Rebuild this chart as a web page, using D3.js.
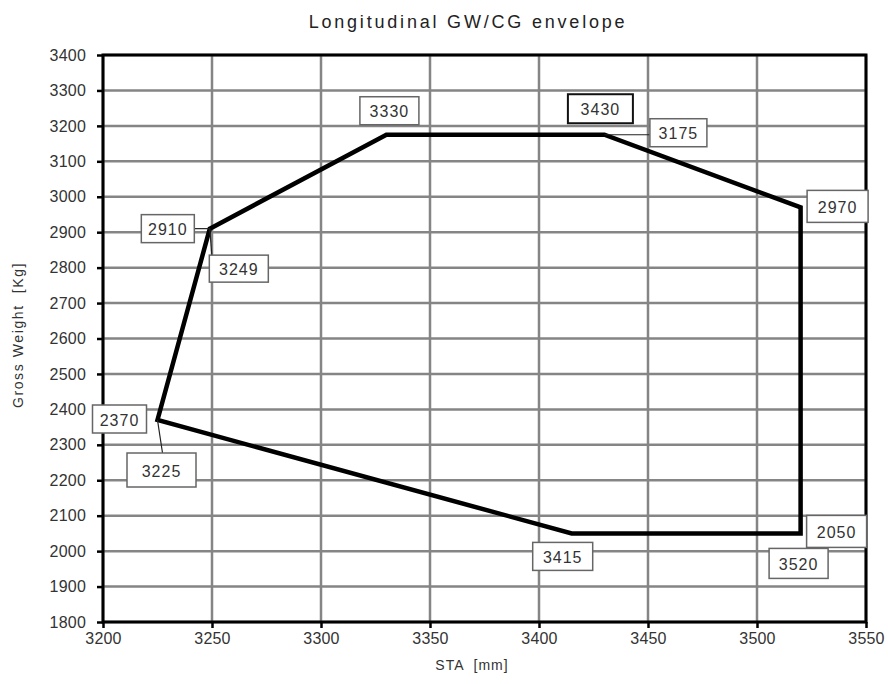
<!DOCTYPE html>
<html>
<head>
<meta charset="utf-8">
<script src="https://cdn.jsdelivr.net/npm/d3@7"></script>
<style>
  body { margin: 0; background: #fff; }
  svg text { font-family: "Liberation Sans", Arial, sans-serif; }
</style>
</head>
<body>
<div id="chart-area"></div>
<script>
// envelope corners, STA (mm) and gross weight (kg)
const envelopeSta = [3249, 3330, 3430, 3520, 3520, 3415, 3225]
const envelopeWeight = [2910, 3175, 3175, 2970, 2050, 2050, 2370]

const staTicks = [3200, 3250, 3300, 3350, 3400, 3450, 3500, 3550]
const weightTicks = [1800, 1900, 2000, 2100, 2200, 2300, 2400, 2500, 2600,
  2700, 2800, 2900, 3000, 3100, 3200, 3300, 3400]

// callout boxes: which corner and what number
const calloutPoint = [0, 0, 1, 2, 2, 3, 4, 4, 5, 6, 6]
const calloutText = ["2910", "3249", "3330", "3430", "3175", "2970", "2050", "3520", "3415", "2370", "3225"]

// layout of callouts (px offset of box centre from corner, box size, leader)
const calloutLayout = [
  { dx: -42, dy: 0, w: 53, h: 28, lead: "h" },
  { dx: 29, dy: 40, w: 59, h: 27, lead: "v", lx: 2 },
  { dx: 3, dy: -24, w: 59, h: 28 },
  { dx: -4, dy: -26, w: 65, h: 29, dark: true },
  { dx: 74, dy: -2, w: 57, h: 28, lead: "h" },
  { dx: 37, dy: -1, w: 61, h: 32 },
  { dx: 36, dy: -2, w: 60, h: 32 },
  { dx: -2, dy: 30, w: 59, h: 30 },
  { dx: -9, dy: 23, w: 60, h: 28 },
  { dx: -38, dy: -1, w: 54, h: 28 },
  { dx: 4, dy: 50, w: 69, h: 34, lead: "v", lx: 5 }
]

const width = 888, height = 684
const margin = { left: 103, right: 22, top: 55, bottom: 62 }

const svg = d3.select("#chart-area").append("svg")
  .attr("width", width)
  .attr("height", height)

const x = d3.scaleLinear().domain([3200, 3550]).range([margin.left, width - margin.right])
const y = d3.scaleLinear().domain([1800, 3400]).range([height - margin.bottom, margin.top])

// grid
svg.append("g").selectAll("line.gx")
  .data(staTicks)
  .enter().append("line")
    .attr("x1", d => x(d)).attr("x2", d => x(d))
    .attr("y1", y(1800)).attr("y2", y(3400))
    .attr("stroke", "#858585").attr("stroke-width", 2.5)
svg.append("g").selectAll("line.gy")
  .data(weightTicks)
  .enter().append("line")
    .attr("x1", x(3200)).attr("x2", x(3550))
    .attr("y1", d => y(d)).attr("y2", d => y(d))
    .attr("stroke", "#858585").attr("stroke-width", 2.5)

// axes
const xAxis = svg.append("g")
  .attr("transform", `translate(0,${y(1800)})`)
  .call(d3.axisBottom(x).tickValues(staTicks).tickFormat(d3.format("d")).tickSize(6).tickPadding(5))
const yAxis = svg.append("g")
  .attr("transform", `translate(${x(3200)},0)`)
  .call(d3.axisLeft(y).tickValues(weightTicks).tickFormat(d3.format("d")).tickSize(6).tickPadding(11))

;[xAxis, yAxis].forEach(g => {
  g.select(".domain").remove()
  g.selectAll(".tick line").attr("stroke", "#000").attr("stroke-width", 2.5)
  g.selectAll("text").attr("font-size", 16).attr("fill", "#333")
    .attr("letter-spacing", 0.2)
})

// frame
svg.append("rect")
  .attr("x", x(3200)).attr("y", y(3400))
  .attr("width", x(3550) - x(3200)).attr("height", y(1800) - y(3400))
  .attr("fill", "none").attr("stroke", "#000").attr("stroke-width", 3)

// envelope
const pts = envelopeSta.map((s, i) => [x(s), y(envelopeWeight[i])])
svg.append("path")
  .attr("d", d3.line()(pts) + "Z")
  .attr("fill", "none")
  .attr("stroke", "#000")
  .attr("stroke-width", 4.5)
  .attr("stroke-linejoin", "miter")

// callouts
const callouts = svg.append("g")
calloutText.forEach((t, i) => {
  const p = pts[calloutPoint[i]]
  const L = calloutLayout[i]
  const cx = p[0] + L.dx, cy = p[1] + L.dy
  if (L.lead === "h") {
    const ex = L.dx < 0 ? cx + L.w / 2 : cx - L.w / 2
    callouts.append("line")
      .attr("x1", p[0]).attr("y1", p[1]).attr("x2", ex).attr("y2", p[1])
      .attr("stroke", "#222").attr("stroke-width", 1.2)
  } else if (L.lead === "v") {
    callouts.append("line")
      .attr("x1", p[0]).attr("y1", p[1]).attr("x2", p[0] + L.lx).attr("y2", cy - L.h / 2)
      .attr("stroke", "#222").attr("stroke-width", 1.2)
  }
  callouts.append("rect")
    .attr("x", cx - L.w / 2).attr("y", cy - L.h / 2)
    .attr("width", L.w).attr("height", L.h)
    .attr("fill", "#fff")
    .attr("stroke", L.dark ? "#111" : "#666")
    .attr("stroke-width", L.dark ? 2 : 1.5)
  callouts.append("text")
    .attr("x", cx).attr("y", cy + 1)
    .attr("text-anchor", "middle")
    .attr("dominant-baseline", "central")
    .attr("font-size", 16)
    .attr("letter-spacing", 1)
    .attr("fill", "#333")
    .text(t)
})

// titles
svg.append("text")
  .attr("x", 468).attr("y", 28)
  .attr("text-anchor", "middle")
  .attr("font-size", 18)
  .attr("letter-spacing", 2.8)
  .attr("fill", "#222")
  .text("Longitudinal GW/CG envelope")

svg.append("text")
  .attr("x", 472).attr("y", 670)
  .attr("text-anchor", "middle")
  .attr("font-size", 14)
  .attr("letter-spacing", 1)
  .attr("fill", "#333")
  .attr("xml:space", "preserve")
  .text("STA  [mm]")

svg.append("text")
  .attr("transform", "translate(23,335) rotate(-90)")
  .attr("text-anchor", "middle")
  .attr("font-size", 14)
  .attr("letter-spacing", 1.6)
  .attr("fill", "#333")
  .attr("xml:space", "preserve")
  .text("Gross Weight  [Kg]")
</script>
</body>
</html>
